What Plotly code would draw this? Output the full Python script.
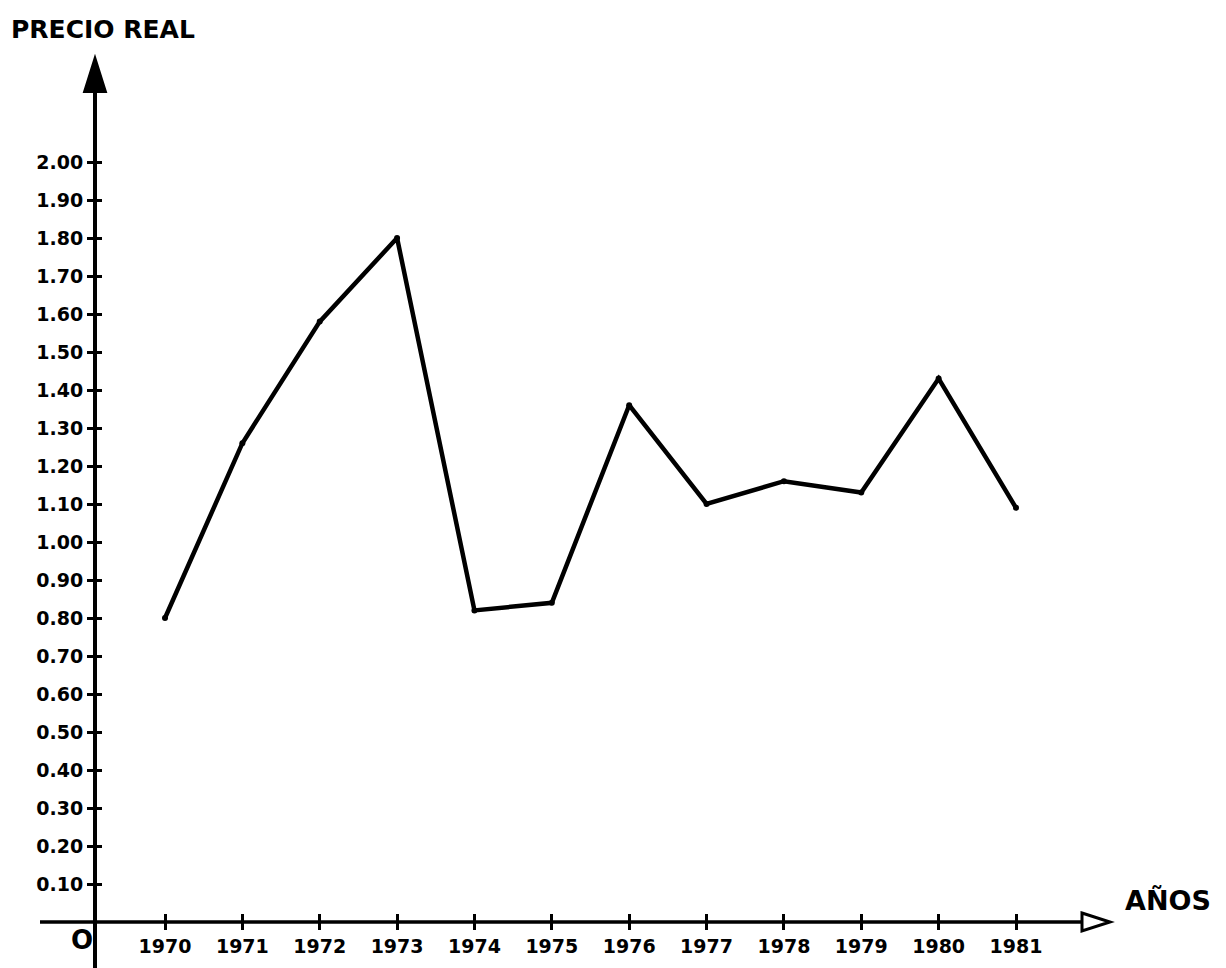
import plotly.graph_objects as go

# ---- data ----
years = [1970, 1971, 1972, 1973, 1974, 1975, 1976, 1977, 1978, 1979, 1980, 1981]
precio_real = [0.80, 1.26, 1.58, 1.80, 0.82, 0.84, 1.36, 1.10, 1.16, 1.13, 1.43, 1.09]
y_tickvals = [0.10, 0.20, 0.30, 0.40, 0.50, 0.60, 0.70, 0.80, 0.90, 1.00,
              1.10, 1.20, 1.30, 1.40, 1.50, 1.60, 1.70, 1.80, 1.90, 2.00]
y_ticktext = ["0.10", "0.20", "0.30", "0.40", "0.50", "0.60", "0.70", "0.80", "0.90", "1.00",
              "1.10", "1.20", "1.30", "1.40", "1.50", "1.60", "1.70", "1.80", "1.90", "2.00"]
x_ticktext = [str(y) for y in years]

# ---- layout geometry (pixels, page coordinates; page has an 8px body margin) ----
OFF = 8
W, H = 1226 - OFF, 968 - OFF
AX_X, AX_Y = 95, 922          # page position of the axes origin
L = AX_X - OFF
PH = AX_Y - OFF
B = H - PH
PW = W - L
x_step = (1016 - 165) / 11.0
x0 = 1970 - (165 - AX_X) / x_step
x1 = x0 + PW / x_step
y_unit = 380.0
y_top = PH / y_unit

def px(xp):
    return (xp - AX_X) / PW

def py(yp):
    return (AX_Y - yp) / PH

FONT = "DejaVu Sans"

fig = go.Figure()
fig.add_trace(go.Scatter(
    x=years, y=precio_real, mode="lines+markers",
    line=dict(color="black", width=4.5),
    marker=dict(color="black", size=6),
    showlegend=False, hoverinfo="x+y", cliponaxis=False,
))

shapes = [
    dict(type="line", xref="paper", yref="paper", x0=px(95), x1=px(95), y0=py(968), y1=py(75),
         line=dict(color="black", width=4)),
    dict(type="path", xref="paper", yref="paper",
         path=f"M {px(95)} {py(57)} L {px(84)} {py(92)} L {px(106)} {py(92)} Z",
         fillcolor="black", line=dict(color="black", width=2)),
    dict(type="line", xref="paper", yref="paper", x0=px(40), x1=px(1082), y0=py(AX_Y), y1=py(AX_Y),
         line=dict(color="black", width=3.5)),
    dict(type="path", xref="paper", yref="paper",
         path=f"M {px(1082)} {py(AX_Y-9)} L {px(1110)} {py(AX_Y)} L {px(1082)} {py(AX_Y+9)} Z",
         fillcolor="white", line=dict(color="black", width=3)),
]

annotations = [
    dict(text="PRECIO REAL", xref="paper", yref="paper", x=px(9), y=py(30),
         xanchor="left", yanchor="middle", showarrow=False,
         font=dict(family=FONT, size=25, color="black", weight="bold")),
    dict(text="AÑOS", xref="paper", yref="paper", x=px(1123), y=py(900),
         xanchor="left", yanchor="middle", showarrow=False,
         font=dict(family=FONT, size=27, color="black", weight="bold")),
    dict(text="O", xref="paper", yref="paper", x=px(82), y=py(940),
         xanchor="center", yanchor="middle", showarrow=False,
         font=dict(family=FONT, size=26, color="black", weight="bold")),
]

fig.update_layout(
    width=W, height=H,
    margin=dict(l=L, r=0, t=0, b=B),
    paper_bgcolor="white", plot_bgcolor="white",
    shapes=shapes, annotations=annotations,
    xaxis=dict(range=[x0, x1], tickvals=years, ticktext=x_ticktext,
               ticks="outside", ticklen=7, tickwidth=3, tickcolor="black",
               showline=False, showgrid=False, zeroline=False,
               tickfont=dict(family=FONT, size=19, color="black", weight="bold")),
    yaxis=dict(range=[0, y_top], tickvals=y_tickvals, ticktext=y_ticktext,
               ticks="outside", ticklen=7, tickwidth=3, tickcolor="black",
               showline=False, showgrid=False, zeroline=False, ticklabelstandoff=0,
               tickfont=dict(family=FONT, size=19, color="black", weight="bold")),
    xaxis2=dict(range=[x0, x1], overlaying="x", anchor="y", side="bottom",
                tickvals=years, ticks="inside", ticklen=8, tickwidth=3, tickcolor="black",
                showticklabels=False, showline=False, showgrid=False, zeroline=False),
    yaxis2=dict(range=[0, y_top], overlaying="y", anchor="x", side="left",
                tickvals=y_tickvals, ticks="inside", ticklen=7, tickwidth=3, tickcolor="black",
                showticklabels=False, showline=False, showgrid=False, zeroline=False),
)
fig.add_trace(go.Scatter(x=[years[0]], y=[precio_real[0]], xaxis="x2", yaxis="y2",
                         mode="markers", marker=dict(opacity=0), showlegend=False,
                         hoverinfo="skip"))

fig.write_html("out.html")
